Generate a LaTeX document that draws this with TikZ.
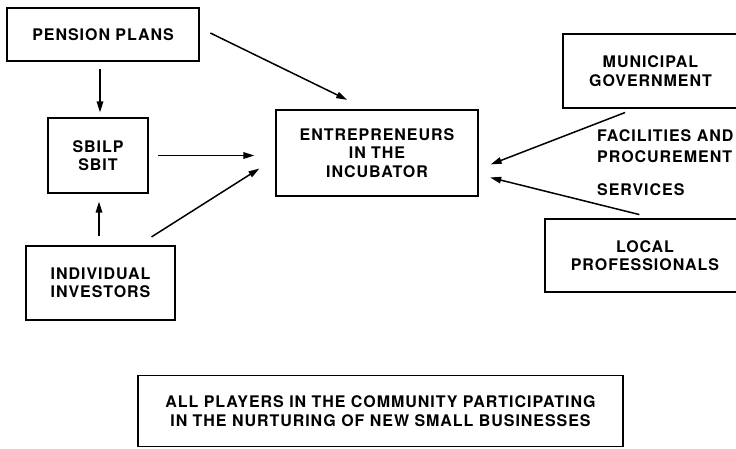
\documentclass[tikz,border=0pt]{standalone}
\usepackage{fontspec}
\newfontfamily\capsfont[LetterSpace=6]{TeX Gyre Heros}
\usetikzlibrary{arrows.meta,positioning}
\tikzset{box/.style={draw,line width=1.1pt,align=center,inner sep=0pt,font=\capsfont\bfseries\fontsize{16}{18.5}\selectfont},note/.style={align=left,anchor=west,inner sep=0pt,font=\capsfont\bfseries\fontsize{16}{21}\selectfont},arrow/.style={-{Triangle[length=11pt,width=6.5pt]},line width=1.5pt}}
\begin{document}
\begin{tikzpicture}[x=1pt,y=-1pt]
\useasboundingbox (0,0) rectangle (736,448);
\node[box,minimum width=192pt,minimum height=53pt] (pension) at (103,34.5) {PENSION PLANS};
\node[box,minimum width=100pt,minimum height=75pt] (sbilp) at (98,155.5) {SBILP\\SBIT};
\node[box,minimum width=149pt,minimum height=74pt] (invest) at (100.5,283) {INDIVIDUAL\\INVESTORS};
\node[box,minimum width=202pt,minimum height=86pt] (incub) at (377,153) {ENTREPRENEURS\\IN THE\\INCUBATOR};
\node[box,minimum width=175pt,minimum height=74pt] (munic) at (650.5,71) {MUNICIPAL\\GOVERNMENT};
\node[box,minimum width=200pt,minimum height=73pt] (local) at (645,255.5) {LOCAL\\PROFESSIONALS};
\node[box,minimum width=485pt,minimum height=71pt] (players) at (380.5,411) {ALL PLAYERS IN THE COMMUNITY PARTICIPATING\\IN THE NURTURING OF NEW SMALL BUSINESSES};
\node[note] (facil) at (597,146.5) {FACILITIES AND\\PROCUREMENT};
\node[note] (serv) at (597,190) {SERVICES};
% money flows into the incubator
\draw[arrow,shorten <=7pt,shorten >=5pt] ([xshift=2pt]sbilp.north |- pension.south) -- ([xshift=2pt]sbilp.north);
\draw[arrow,shorten <=9pt,shorten >=8pt] ([xshift=1pt]sbilp.south |- invest.north) -- ([xshift=1pt]sbilp.south);
\draw[arrow,shorten <=12pt,shorten >=22pt] (pension.4) -- (incub.103);
\draw[arrow,shorten <=9pt,shorten >=21pt] (sbilp.east) -- (sbilp.east -| incub.west);
\draw[arrow,shorten <=16pt,shorten >=19pt] (invest.45) -- (incub.183);
% support from the community
\draw[arrow,shorten <=11pt,shorten >=13pt] (munic.248) -- (incub.351);
\draw[arrow,shorten <=16pt,shorten >=12pt] (local.75) -- (incub.348);
\end{tikzpicture}
\end{document}
